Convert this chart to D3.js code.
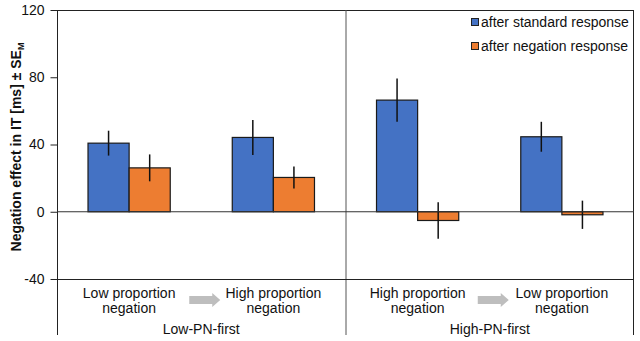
<!DOCTYPE html>
<html>
<head>
<meta charset="utf-8">
<script src="https://cdn.jsdelivr.net/npm/d3@7"></script>
<style>
  html, body { margin: 0; padding: 0; background: #fff; }
  svg { display: block; font-family: "Liberation Sans", Arial, sans-serif; }
</style>
</head>
<body>
<svg id="chart" width="640" height="341"></svg>
<script>
// ---- data ----
const conditions = ["LowPN1", "HighPN1", "HighPN2", "LowPN2"];
const conditionLine1 = ["Low proportion", "High proportion", "High proportion", "Low proportion"];
const conditionLine2 = ["negation", "negation", "negation", "negation"];
const groups = ["Low-PN-first", "High-PN-first"];
const seriesNames = ["after standard response", "after negation response"];
const standardValues = [40.8, 44.2, 66.4, 44.6];
const standardSE = [7.4, 10.4, 12.9, 8.9];
const negationValues = [26.1, 20.4, -5.2, -1.8];
const negationSE = [8.0, 6.5, 10.9, 8.4];
const yTicks = [-40, 0, 40, 80, 120];
const colors = ["#4472C4", "#ED7D31"];

(function () {
const svg = d3.select("#chart");
const mLeft = 57, mRight = 634, mTop = 10, plotBottom = 279, frameBottom = 335;

const y = d3.scaleLinear().domain([-40, 120]).range([plotBottom, mTop]);
const x0 = d3.scaleBand().domain(conditions).range([mLeft, mRight]).paddingInner(0.43).paddingOuter(0.215);
const x1 = d3.scaleBand().domain([0, 1]).range([0, x0.bandwidth()]);
const outer = d3.scaleBand().domain(groups).range([mLeft, mRight]);

const rows = conditions.map((c, i) => ({
  c, vals: [
    {s: 0, v: standardValues[i], se: standardSE[i]},
    {s: 1, v: negationValues[i], se: negationSE[i]}
  ]
}));

// frame lines
svg.append("line").attr("x1", mLeft).attr("x2", mRight).attr("y1", mTop + 0.5).attr("y2", mTop + 0.5).attr("stroke", "#222");
svg.append("line").attr("x1", mRight - 0.5).attr("x2", mRight - 0.5).attr("y1", mTop).attr("y2", frameBottom).attr("stroke", "#222");
svg.append("line").attr("x1", outer("High-PN-first") + 0.5).attr("x2", outer("High-PN-first") + 0.5).attr("y1", mTop).attr("y2", frameBottom).attr("stroke", "#555");
svg.append("line").attr("x1", mLeft).attr("x2", mRight).attr("y1", Math.round(y(-40)) + 0.5).attr("y2", Math.round(y(-40)) + 0.5).attr("stroke", "#222");

// axis
const axis = svg.append("g").attr("transform", `translate(${mLeft + 0.5},0)`)
  .call(d3.axisLeft(y).tickValues(yTicks).tickSize(7).tickPadding(6).tickFormat(d => String(d)));
axis.select(".domain").remove();
axis.selectAll(".tick line").attr("stroke", "#222");
axis.selectAll("text").attr("font-size", 14).attr("fill", "#111").attr("font-family", "Liberation Sans, Arial, sans-serif");
svg.append("line").attr("x1", mLeft + 0.5).attr("x2", mLeft + 0.5).attr("y1", mTop).attr("y2", frameBottom).attr("stroke", "#222");

// bars
const g = svg.selectAll("g.cond").data(rows).join("g").attr("class", "cond")
  .attr("transform", d => `translate(${x0(d.c)},0)`);
g.selectAll("rect").data(d => d.vals).join("rect")
  .attr("x", d => x1(d.s))
  .attr("width", x1.bandwidth())
  .attr("y", d => y(Math.max(0, d.v)))
  .attr("height", d => Math.abs(y(d.v) - y(0)))
  .attr("fill", d => colors[d.s])
  .attr("stroke", "#1a1a1a").attr("stroke-width", 1.2);

// zero line
svg.append("line").attr("x1", mLeft).attr("x2", mRight).attr("y1", y(0)).attr("y2", y(0)).attr("stroke", "#333").attr("stroke-width", 1);

// error bars
g.selectAll("line.err").data(d => d.vals).join("line").attr("class", "err")
  .attr("x1", d => x1(d.s) + x1.bandwidth() / 2)
  .attr("x2", d => x1(d.s) + x1.bandwidth() / 2)
  .attr("y1", d => y(d.v + d.se))
  .attr("y2", d => y(d.v - d.se))
  .attr("stroke", "#111").attr("stroke-width", 1.5);

// category labels
const lab = svg.append("g").attr("font-size", 14).attr("fill", "#111").attr("text-anchor", "middle");
conditions.forEach((c, i) => {
  const cx = x0(c) + x0.bandwidth() / 2;
  lab.append("text").attr("x", cx).attr("y", 298).text(conditionLine1[i]);
  lab.append("text").attr("x", cx).attr("y", 313).text(conditionLine2[i]);
});
groups.forEach(gname => {
  const cx = outer(gname) + outer.bandwidth() / 2;
  lab.append("text").attr("x", cx).attr("y", 334).text(gname);
  const ax = cx - 12;
  const p = d3.path();
  p.moveTo(ax, 296); p.lineTo(ax + 23, 296); p.lineTo(ax + 23, 293);
  p.lineTo(ax + 31, 300); p.lineTo(ax + 23, 307); p.lineTo(ax + 23, 304);
  p.lineTo(ax, 304); p.closePath();
  svg.append("path").attr("d", p.toString()).attr("fill", "#BEBEBE");
});

// y label
const yl = svg.append("text")
  .attr("transform", "translate(21,147) rotate(-90)")
  .attr("text-anchor", "middle").attr("font-size", 14).attr("font-weight", "bold").attr("fill", "#111");
yl.append("tspan").text("Negation effect in IT [ms] \u00B1 SE");
yl.append("tspan").attr("font-size", 9).attr("dy", 3).text("M");

// legend
const leg = svg.append("g").attr("font-size", 14).attr("fill", "#111");
seriesNames.forEach((s, i) => {
  const ly = 22 + i * 24;
  leg.append("rect").attr("x", 471.5).attr("y", ly - 3.5).attr("width", 7).attr("height", 7)
    .attr("fill", colors[i]).attr("stroke", "#222").attr("stroke-width", 1);
  leg.append("text").attr("x", 481).attr("y", ly + 5).text(s);
});
})();
</script>
</body>
</html>
